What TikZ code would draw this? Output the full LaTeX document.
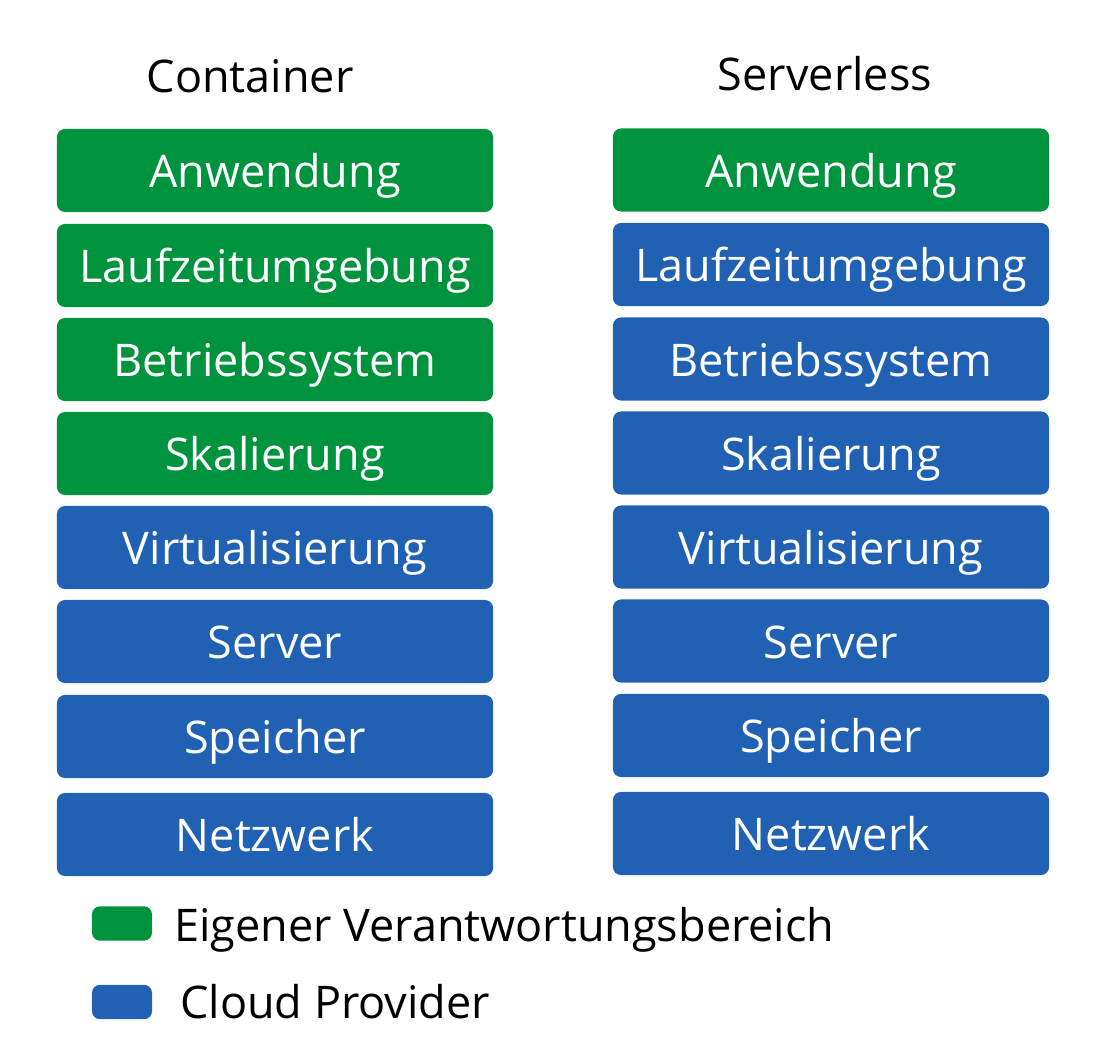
\documentclass[tikz,border=0pt]{standalone}
\usepackage{fontspec}
\setmainfont{Open Sans}
\usetikzlibrary{positioning}

\definecolor{owngreen}{RGB}{0,147,62}
\definecolor{cloudblue}{RGB}{33,97,179}

\tikzset{
    layer/.style={rectangle, rounded corners=0.2cm, minimum width=10.9cm,
                  minimum height=2.075cm, inner sep=0pt, text=white,
                  text height=0.87cm, text depth=0cm},
    own/.style={layer, fill=owngreen},
    cloud/.style={layer, fill=cloudblue},
    keybox/.style={rectangle, rounded corners=0.2cm, minimum width=1.5cm,
                   minimum height=0.86cm, inner sep=0pt},
    caption/.style={text=black, inner sep=0pt, text height=0.8cm, text depth=0cm}
}

\begin{document}
\begin{tikzpicture}[x=0.025cm, y=-0.025cm, font=\fontsize{32pt}{38pt}\selectfont]
\useasboundingbox (0,0) rectangle (1104,1062);

% column headings
\node (ctitle) at (250, 77) [caption] {Container};
\node (stitle) at (825, 75) [caption] {Serverless};

% container stack
\begin{scope}
    \node (cApp) at (275, 170.5) [own] {Anwendung};
    \node (cRun) at (275, 265.5) [own] {Laufzeitumgebung};
    \node (cOS)  at (275, 359.5) [own] {Betriebssystem};
    \node (cScl) at (275, 453.5) [own] {Skalierung};
    \node (cVir) at (275, 547.5) [cloud] {Virtualisierung};
    \node (cSrv) at (275, 641.5) [cloud] {Server};
    \node (cMem) at (275, 736.5) [cloud] {Speicher};
    \node (cNet) at (275, 834.5) [cloud] {Netzwerk};
\end{scope}

% serverless stack
\begin{scope}
    \node (sApp) at (831, 170) [own] {Anwendung};
    \node (sRun) at (831, 264.5) [cloud] {Laufzeitumgebung};
    \node (sOS)  at (831, 359) [cloud] {Betriebssystem};
    \node (sScl) at (831, 453) [cloud] {Skalierung};
    \node (sVir) at (831, 547) [cloud] {Virtualisierung};
    \node (sSrv) at (831, 641) [cloud] {Server};
    \node (sMem) at (831, 735.5) [cloud] {Speicher};
    \node (sNet) at (831, 833.5) [cloud] {Netzwerk};
\end{scope}

% legend
\node (kOwn) at (122, 923.5) [keybox, fill=owngreen] {};
\node (kCloud) at (122, 1002) [keybox, fill=cloudblue] {};
\node (tOwn) at (174, 925) [caption, anchor=west] {Eigener Verantwortungsbereich};
\node (tCloud) at (180, 1002) [caption, anchor=west] {Cloud Provider};
\end{tikzpicture}
\end{document}
